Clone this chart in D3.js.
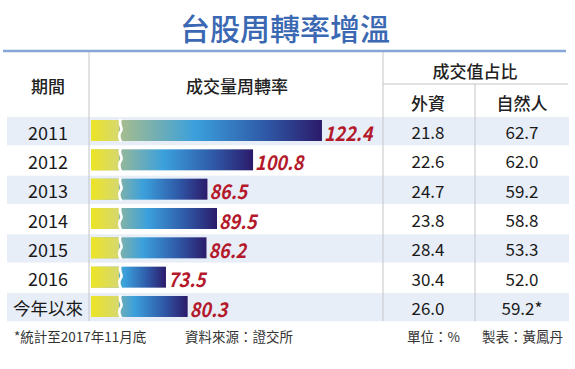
<!DOCTYPE html>
<html><head><meta charset="utf-8">
<script src="https://cdn.jsdelivr.net/npm/d3@7/dist/d3.min.js"></script>
<style>
html,body{margin:0;padding:0;background:#fff;}
svg{display:block;}
text{font-family:"Noto Sans CJK TC","Liberation Sans",Arial,sans-serif;}
</style></head>
<body>
<svg id="chart" width="575" height="369"></svg>
<script>
const title = "台股周轉率增溫";
const periods = ["2011","2012","2013","2014","2015","2016","今年以來"];
const turnover = [122.4,100.8,86.5,89.5,86.2,73.5,80.3];
const foreignShare = [21.8,22.6,24.7,23.8,28.4,30.4,26.0];
const retailShare = [62.7,62.0,59.2,58.8,53.3,52.0,59.2];
const retailNotes = ["","","","","","","*"];
const headers = {period:"期間", turnover:"成交量周轉率", share:"成交值占比", foreign:"外資", retail:"自然人"};
const footLeft = "*統計至2017年11月底";
const footSource = "資料來源：證交所";
const footUnit = "單位：%";
const footMaker = "製表：黃鳳丹";

const svg = d3.select("#chart");
const defs = svg.append("defs");

const y = d3.scaleBand().domain(periods).range([117, 117 + 7*29.33]).paddingInner(0);
const x = d3.scaleLinear().domain([50, 130]).range([91, 346.2]);

// gradients
const gMain = defs.append("linearGradient").attr("id","gMain").attr("x1","0").attr("x2","1").attr("y1","0").attr("y2","0");
[[0,"#dcdc48"],[0.12,"#a9bd8c"],[0.45,"#3ba0dc"],[0.75,"#2f5aa8"],[1,"#2b1b6a"]].forEach(s=>gMain.append("stop").attr("offset",s[0]).attr("stop-color",s[1]));
const gYel = defs.append("linearGradient").attr("id","gYel").attr("x1","0").attr("x2","1").attr("y1","0").attr("y2","0");
[[0,"#ece425"],[1,"#d6d870"]].forEach(s=>gYel.append("stop").attr("offset",s[0]).attr("stop-color",s[1]));

// title
svg.append("text").attr("x",285).attr("y",40).attr("text-anchor","middle")
  .attr("font-size",30).attr("fill","#3b68b2").attr("font-weight",500).text(title);
svg.append("line").attr("x1",3).attr("x2",566).attr("y1",51).attr("y2",51)
  .attr("stroke","#86a6d6").attr("stroke-width",2.5);

// row bands
svg.selectAll("rect.band").data(periods.filter((d,i)=>i%2===0)).enter().append("rect")
  .attr("class","band").attr("x",7).attr("width",562)
  .attr("y",d=>y(d)).attr("height",28.3).attr("fill","#e8eef8");

// dividers
const grid = "#c4c4c8";
svg.append("line").attr("x1",89).attr("x2",89).attr("y1",52).attr("y2",321).attr("stroke",grid);
svg.append("line").attr("x1",383).attr("x2",383).attr("y1",52).attr("y2",321).attr("stroke",grid);
svg.append("line").attr("x1",475).attr("x2",475).attr("y1",84).attr("y2",321).attr("stroke",grid);
svg.append("line").attr("x1",383).attr("x2",568).attr("y1",84).attr("y2",84).attr("stroke",grid);

// headers
const hdr = (tx,xx,yy)=>svg.append("text").attr("x",xx).attr("y",yy).attr("text-anchor","middle")
  .attr("dominant-baseline","central").attr("font-size",17).attr("font-weight",500).attr("fill","#222").text(tx);
hdr(headers.period,48,85);
hdr(headers.turnover,237,85);
hdr(headers.share,475,70);
hdr(headers.foreign,428,102);
hdr(headers.retail,522,102);

// rows
const rows = svg.selectAll("g.row").data(periods.map((p,i)=>({p,v:turnover[i],f:foreignShare[i],r:retailShare[i],n:retailNotes[i]})))
  .enter().append("g").attr("class","row");

rows.append("text").attr("x",48).attr("y",d=>y(d.p)+y.bandwidth()/2)
  .attr("text-anchor","middle").attr("dominant-baseline","central")
  .attr("font-size",d=>/^\d+$/.test(d.p)?18:17.5)
  .attr("font-family",d=>/^\d+$/.test(d.p)?"'Liberation Sans',Arial,sans-serif":null)
  .attr("fill","#1a1a1a").text(d=>d.p);

rows.append("rect").attr("x",x(50)).attr("y",d=>y(d.p)+3).attr("height",21)
  .attr("width",d=>x(d.v)-x(50)).attr("fill","url(#gMain)");
rows.append("rect").attr("x",x(50)).attr("y",d=>y(d.p)+3).attr("height",21)
  .attr("width",28).attr("fill","url(#gYel)");
rows.append("path").attr("d",d=>{const t=y(d.p)+2, b=t+23; return `M120.5,${t} C118,${t+6} 123.5,${t+9} 121,${t+12} S119,${b-4} 121,${b}`;})
  .attr("fill","none").attr("stroke","#fff").attr("stroke-width",2.6);

rows.append("text").attr("x",d=>x(d.v)+2).attr("y",d=>y(d.p)+y.bandwidth()/2)
  .attr("dominant-baseline","central")
  .attr("font-family","'Liberation Sans',Arial,sans-serif").attr("font-weight","bold").attr("font-style","italic")
  .attr("font-size",20).attr("fill","#b3192b")
  .attr("transform",d=>`translate(${(x(d.v)+2)*0.1},0) scale(0.9,1)`)
  .text(d=>d.v.toFixed(1));

rows.append("text").attr("x",428).attr("y",d=>y(d.p)+y.bandwidth()/2)
  .attr("text-anchor","middle").attr("dominant-baseline","central")
  .attr("font-family","'Liberation Sans',Arial,sans-serif").attr("font-size",17).attr("fill","#1a1a1a")
  .text(d=>d.f.toFixed(1));
rows.append("text").attr("x",522).attr("y",d=>y(d.p)+y.bandwidth()/2)
  .attr("text-anchor","middle").attr("dominant-baseline","central")
  .attr("font-family","'Liberation Sans',Arial,sans-serif").attr("font-size",17).attr("fill","#1a1a1a")
  .text(d=>d.r.toFixed(1)+d.n);

// footer
const foot = (tx,xx,anchor)=>svg.append("text").attr("x",xx).attr("y",336).attr("text-anchor",anchor)
  .attr("dominant-baseline","central").attr("font-size",13.5).attr("fill","#333").text(tx);
foot(footLeft,14,"start");
foot(footSource,185,"start");
foot(footUnit,407,"start");
foot(footMaker,563,"end");
</script>
</body></html>
